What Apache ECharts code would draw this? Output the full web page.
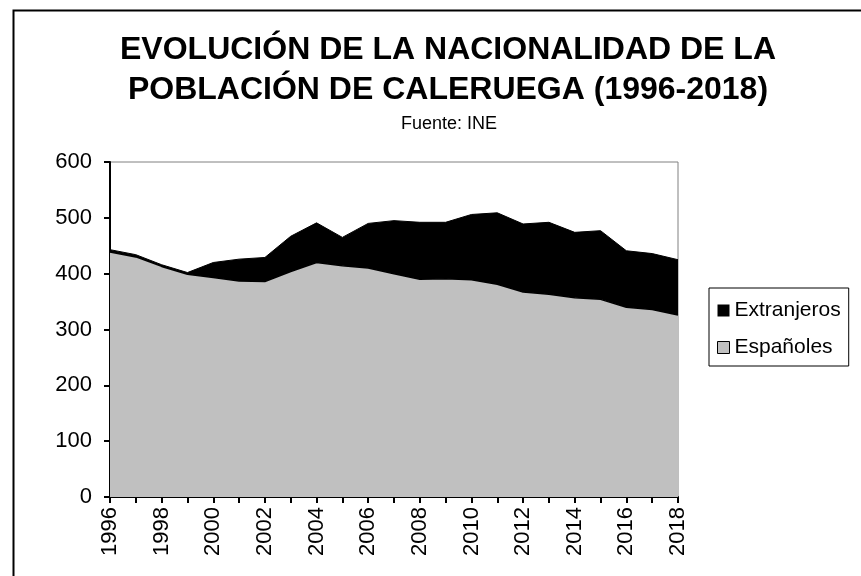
<!DOCTYPE html>
<html>
<head>
<meta charset="utf-8">
<script src="https://cdn.jsdelivr.net/npm/echarts@6/dist/echarts.min.js"></script>
<style>
  html, body { margin: 0; padding: 0; background: #fff; }
  #chart { width: 861px; height: 576px; }
</style>
</head>
<body>
<div id="chart"></div>
<script>
// datos (habitantes)
var years = ['1996', '1997', '1998', '1999', '2000', '2001', '2002', '2003', '2004', '2005', '2006', '2007',
  '2008', '2009', '2010', '2011', '2012', '2013', '2014', '2015', '2016', '2017', '2018']
var espanoles = [439, 430, 413, 399, 393, 387, 386, 404, 420, 414, 410, 400,
  390, 391, 389, 381, 367, 363, 357, 354, 340, 336, 326]
var extranjeros = [4, 4, 3, 3, 27, 39, 43, 63, 71, 51, 80, 95,
  102, 101, 117, 128, 122, 129, 117, 123, 101, 100, 99]
var yTicks = [0, 100, 200, 300, 400, 500, 600]

var fontFam = '"Liberation Sans", Arial, sans-serif'

var chart = echarts.init(document.getElementById('chart'), null, { renderer: 'canvas' })

chart.setOption({
  backgroundColor: '#fff',
  animation: false,
  title: [{
    text: 'EVOLUCIÓN DE LA NACIONALIDAD DE LA\nPOBLACIÓN DE CALERUEGA (1996-2018)',
    left: 443,
    top: 25,
    textAlign: 'center',
    textStyle: { fontFamily: fontFam, fontSize: 32, fontWeight: 'bold', color: '#000', lineHeight: 40 }
  }, {
    text: 'Fuente: INE',
    left: 444,
    top: 110,
    textAlign: 'center',
    textStyle: { fontFamily: fontFam, fontSize: 18, fontWeight: 'normal', color: '#000' }
  }],
  graphic: [{
    type: 'rect',
    left: 11,
    top: 8,
    shape: { width: 900, height: 600 },
    style: { fill: 'none', stroke: '#000', lineWidth: 2 }
  }],
  legend: {
    left: 709,
    top: 288,
    orient: 'vertical',
    icon: 'rect',
    itemWidth: 12,
    itemHeight: 12,
    itemGap: 16,
    padding: [12, 8, 8, 8],
    borderColor: '#000',
    borderWidth: 1,
    textStyle: { fontFamily: fontFam, fontSize: 21, color: '#000' },
    data: [
      { name: 'Extranjeros', itemStyle: { color: '#000' } },
      { name: 'Españoles', itemStyle: { color: '#c0c0c0', borderColor: '#000', borderWidth: 1 } }
    ]
  },
  grid: {
    left: 110,
    top: 162,
    right: 183,
    bottom: 79,
    show: true,
    borderColor: '#808080',
    borderWidth: 1,
    backgroundColor: '#fff'
  },
  xAxis: {
    type: 'category',
    data: years,
    boundaryGap: false,
    axisLine: { lineStyle: { color: '#000', width: 2 } },
    axisTick: { interval: 0, length: 6, lineStyle: { color: '#000', width: 2 } },
    axisLabel: {
      interval: 1,
      rotate: 90,
      margin: 10,
      color: '#000',
      fontFamily: fontFam,
      fontSize: 22
    },
    splitLine: { show: false }
  },
  yAxis: {
    type: 'value',
    min: yTicks[0],
    max: yTicks[yTicks.length - 1],
    interval: 100,
    axisLine: { show: true, lineStyle: { color: '#000', width: 2 } },
    axisTick: { show: true, length: 6, lineStyle: { color: '#000', width: 2 } },
    axisLabel: { margin: 18, color: '#000', fontFamily: fontFam, fontSize: 22 },
    splitLine: { show: false }
  },
  series: [{
    name: 'Españoles',
    type: 'line',
    stack: 'total',
    data: espanoles,
    symbol: 'none',
    lineStyle: { color: '#000', width: 1.5 },
    itemStyle: { color: '#c0c0c0' },
    areaStyle: { color: '#c0c0c0', opacity: 1 },
    z: 3
  }, {
    name: 'Extranjeros',
    type: 'line',
    stack: 'total',
    data: extranjeros,
    symbol: 'none',
    lineStyle: { color: '#000', width: 1 },
    itemStyle: { color: '#000' },
    areaStyle: { color: '#000', opacity: 1 },
    z: 2
  }]
})
</script>
</body>
</html>
